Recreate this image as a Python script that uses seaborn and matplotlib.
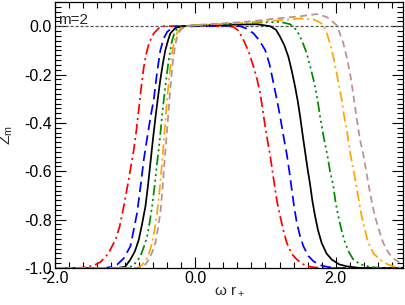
import numpy as np
import pandas as pd
import matplotlib
matplotlib.use("Agg")
import matplotlib.pyplot as plt
from matplotlib.ticker import MultipleLocator, FormatStrFormatter
import seaborn as sns

# ---- data ----
red_x = [-2.0, -1.7, -1.59, -1.45, -1.35, -1.24, -1.138, -1.08, -1.02, -0.95, -0.877, -0.84, -0.80, -0.77,
         -0.735, -0.70, -0.66, -0.593, -0.52, -0.45, 0.0, 0.45, 0.545, 0.62, 0.687, 0.76, 0.83, 0.88, 0.925,
         0.96, 0.996, 1.03, 1.067, 1.124, 1.165, 1.209, 1.255, 1.304, 1.37, 1.447, 1.54, 1.636, 1.78, 2.96]
red_y = [-1.0, -1.0, -0.998, -0.99, -0.975, -0.94, -0.883, -0.83, -0.745, -0.635, -0.511, -0.43, -0.33, -0.25,
         -0.17, -0.115, -0.07, -0.03, -0.008, 0.0, 0.002, 0.0, -0.003, -0.02, -0.058, -0.105, -0.168, -0.22, -0.278,
         -0.345, -0.415, -0.475, -0.535, -0.649, -0.725, -0.786, -0.845, -0.896, -0.94, -0.965, -0.985, -0.995, -1.0, -1.0]

blue_x = [-2.0, -1.30, -1.2, -1.114, -1.02, -0.925, -0.83, -0.78, -0.735, -0.68, -0.635, -0.593, -0.545, -0.498,
          -0.45, -0.40, -0.31, 0.0, 0.5, 0.64, 0.73, 0.83, 0.91, 0.996, 1.06, 1.114, 1.16, 1.209, 1.26, 1.304,
          1.34, 1.375, 1.41, 1.447, 1.49, 1.54, 1.61, 1.683, 1.78, 1.873, 2.015, 2.96]
blue_y = [-1.0, -1.0, -0.996, -0.986, -0.96, -0.91, -0.772, -0.66, -0.553, -0.45, -0.37, -0.305, -0.19, -0.099,
          -0.05, -0.023, -0.003, 0.0, 0.002, 0.0, -0.01, -0.03, -0.058, -0.099, -0.16, -0.236, -0.30, -0.374, -0.46,
          -0.53, -0.60, -0.676, -0.75, -0.814, -0.865, -0.91, -0.95, -0.972, -0.988, -0.995, -1.0, -1.0]

black_x = [-2.0, -1.114, -1.0, -0.925, -0.86, -0.806, -0.76, -0.711, -0.675, -0.640, -0.605, -0.569, -0.535,
           -0.498, -0.46, -0.427, -0.39, -0.356, -0.30, -0.26, -0.2, 0.0, 0.5, 0.877, 1.067, 1.15, 1.209, 1.27,
           1.327, 1.375, 1.422, 1.46, 1.494, 1.53, 1.565, 1.60, 1.636, 1.67, 1.707, 1.75, 1.80, 1.87, 1.944,
           2.05, 2.158, 2.347, 2.96]
black_y = [-1.0, -1.0, -0.995, -0.965, -0.93, -0.883, -0.82, -0.745, -0.66, -0.565, -0.47, -0.38, -0.30,
           -0.22, -0.15, -0.099, -0.06, -0.03, -0.012, -0.005, 0.0, 0.003, 0.006, 0.008, 0.0, -0.015, -0.044, -0.08,
           -0.127, -0.185, -0.25, -0.31, -0.374, -0.45, -0.52, -0.59, -0.655, -0.725, -0.786, -0.845, -0.896,
           -0.94, -0.965, -0.985, -0.993, -1.0, -1.0]

green_x = [-2.0, -1.02, -0.90, -0.84, -0.782, -0.73, -0.687, -0.65, -0.616, -0.58, -0.545, -0.51, -0.48, -0.45,
           -0.415, -0.38, -0.33, -0.30, -0.26, -0.166, 0.0, 0.5, 0.782, 1.0, 1.209, 1.351, 1.447, 1.52, 1.589,
           1.65, 1.707, 1.745, 1.778, 1.83, 1.88, 1.92, 1.967, 2.0, 2.038, 2.085, 2.134, 2.19, 2.252, 2.35,
           2.49, 2.63, 2.96]
green_y = [-1.0, -1.0, -0.993, -0.975, -0.951, -0.91, -0.869, -0.81, -0.745, -0.66, -0.566, -0.48, -0.39, -0.305,
           -0.22, -0.14, -0.058, -0.03, -0.01, 0.0, 0.003, 0.01, 0.014, 0.016, 0.018, 0.008, -0.017, -0.06, -0.113,
           -0.18, -0.25, -0.31, -0.374, -0.46, -0.53, -0.60, -0.66, -0.73, -0.786, -0.845, -0.896, -0.935, -0.965,
           -0.985, -0.995, -1.0, -1.0]

orange_x = [-2.0, -0.83, -0.77, -0.711, -0.66, -0.616, -0.58, -0.545, -0.51, -0.474, -0.44, -0.403, -0.375,
            -0.346, -0.315, -0.284, -0.25, -0.213, -0.12, 0.0, 0.4, 0.8, 1.209, 1.494, 1.683, 1.78, 1.825, 1.87,
            1.92, 1.97, 2.015, 2.05, 2.087, 2.12, 2.158, 2.205, 2.25, 2.29, 2.33, 2.371, 2.42, 2.465, 2.54,
            2.63, 2.74, 2.845, 2.96]
orange_y = [-1.0, -1.0, -0.99, -0.972, -0.94, -0.896, -0.84, -0.772, -0.68, -0.566, -0.44, -0.305, -0.22,
            -0.14, -0.085, -0.044, -0.022, -0.01, 0.0, 0.004, 0.01, 0.016, 0.025, 0.032, 0.028, 0.015, 0.004, -0.025,
            -0.071, -0.13, -0.195, -0.25, -0.305, -0.37, -0.429, -0.52, -0.59, -0.649, -0.72, -0.786, -0.845,
            -0.896, -0.94, -0.965, -0.985, -0.995, -1.0]

brown_x = [-2.0, -0.80, -0.758, -0.71, -0.664, -0.615, -0.569, -0.535, -0.498, -0.47, -0.441, -0.405, -0.37,
           -0.345, -0.317, -0.29, -0.26, -0.225, -0.19, -0.10, 0.0, 0.4, 0.8, 1.2, 1.494, 1.73, 1.873, 1.95,
           2.015, 2.06, 2.11, 2.16, 2.205, 2.24, 2.276, 2.31, 2.347, 2.394, 2.43, 2.465, 2.51, 2.56, 2.62,
           2.678, 2.76, 2.845, 2.96]
brown_y = [-1.0, -1.0, -0.995, -0.985, -0.965, -0.935, -0.896, -0.84, -0.772, -0.68, -0.566, -0.44, -0.305,
           -0.22, -0.14, -0.085, -0.044, -0.022, -0.01, 0.0, 0.005, 0.012, 0.02, 0.033, 0.041, 0.05, 0.038, 0.02,
           0.004, -0.03, -0.071, -0.13, -0.195, -0.26, -0.333, -0.40, -0.47, -0.53, -0.59, -0.649, -0.72, -0.786,
           -0.845, -0.896, -0.94, -0.965, -0.986]

x_ticks = [-2.0, 0.0, 2.0]
y_ticks = [-1.0, -0.8, -0.6, -0.4, -0.2, 0.0]

curves = [
    ("red", red_x, red_y),
    ("blue", blue_x, blue_y),
    ("black", black_x, black_y),
    ("green", green_x, green_y),
    ("orange", orange_x, orange_y),
    ("brown", brown_x, brown_y),
]

styles = {
    "red":    dict(color="#ff0000", dashes=(6, 2.2, 1.2, 2.2)),
    "blue":   dict(color="#0000ff", dashes=(6, 3)),
    "black":  dict(color="#000000", dashes=None),
    "green":  dict(color="#008a00", dashes=(6, 2, 1.2, 2, 1.2, 2, 1.2, 2)),
    "orange": dict(color="#ffa500", dashes=(6, 2.2, 1.2, 2.2)),
    "brown":  dict(color="#bc8f8f", dashes=(4, 2.5)),
}

sns.set_style("ticks")
plt.rcParams['font.family'] = ['Liberation Sans', 'DejaVu Sans']
plt.rcParams['mathtext.fontset'] = 'custom'
plt.rcParams['mathtext.rm'] = 'Liberation Sans'
plt.rcParams['mathtext.it'] = 'Liberation Sans'

fig = plt.figure(figsize=(4.05, 3.05), dpi=100)
ax = fig.add_axes([55 / 405, 37 / 305, 348 / 405, 266 / 305])

ax.axhline(0.0, color="#555555", lw=0.9, dashes=(2.5, 1.5), zorder=1)

for name, xs, ys in curves:
    df = pd.DataFrame({"x": xs, "y": ys})
    st = styles[name]
    sns.lineplot(data=df, x="x", y="y", ax=ax, color=st["color"], lw=1.25,
                 sort=False, estimator=None, legend=False)
    l = ax.lines[-1]
    if st["dashes"] is not None:
        l.set_dashes(st["dashes"])

ax.set_xlim(-2.0, 2.96)
ax.set_ylim(-1.0, 0.1)
ax.xaxis.set_major_locator(plt.FixedLocator(x_ticks))
ax.yaxis.set_major_locator(plt.FixedLocator(y_ticks))
ax.xaxis.set_minor_locator(MultipleLocator(0.2))
ax.yaxis.set_minor_locator(MultipleLocator(0.02))
ax.xaxis.set_major_formatter(FormatStrFormatter("%.1f"))
ax.yaxis.set_major_formatter(FormatStrFormatter("%.1f"))
ax.tick_params(which="both", direction="in", top=True, right=True, colors="black",
               labelsize=11.5, width=0.8)
ax.tick_params(which="major", length=8, pad=2.5)
ax.tick_params(which="minor", length=4)
for s in ax.spines.values():
    s.set_color("black")
    s.set_linewidth(0.9)

ax.set_xlabel(r"ω r$_+$", fontsize=11)
ax.set_ylabel(r"Z$_{\rm m}$", fontsize=11)
ax.xaxis.set_label_coords(0.5, -0.062)
ax.yaxis.set_label_coords(-0.115, 0.5)
ax.text(0.01, 0.96, "m=2", transform=ax.transAxes, ha="left", va="top", fontsize=11)

fig.savefig("out.png", dpi=100)
